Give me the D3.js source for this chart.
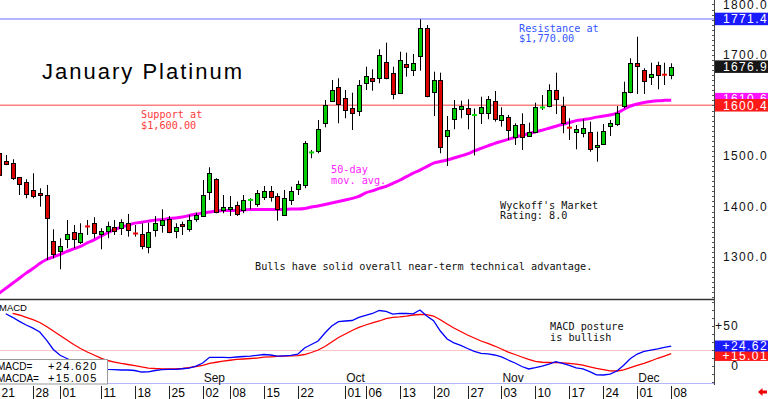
<!DOCTYPE html>
<html>
<head>
<meta charset="utf-8">
<script src="https://cdn.jsdelivr.net/npm/d3@7"></script>
<style>
  html, body { margin: 0; padding: 0; background: #fff; overflow: hidden; }
  svg { display: block; }
  .mono { font-family: "DejaVu Sans Mono", monospace; font-size: 10.2px; }
  .sans { font-family: "Liberation Sans", Arial, sans-serif; }
</style>
</head>
<body>
<svg id="chart" width="768" height="399"></svg>
<script>
// daily bars, Jul 21 .. Dec 08 (index = trading day)
const opens = [
  1505, 1490.7, 1485.6, 1457.8, 1449.1, 1432.7, 1427.4, 1422.8, 1332.3, 1311.9,
  1335.1, 1348.6, 1328.4, 1362, 1366.8, 1345, 1351.5, 1358.8, 1358.8, 1368,
  1347.5, 1345, 1320.4, 1352.1, 1363.4, 1375.3, 1351.5, 1364.8, 1355.5, 1374.7,
  1381.2, 1429.3, 1453.9, 1393.1, 1395, 1403, 1393.1, 1412, 1405, 1418.2,
  1430.7, 1420.8, 1383.2, 1412.9, 1434.7, 1442.6, 1506, 1508.5, 1565.9, 1609.5,
  1637.2, 1614.3, 1594.5, 1589.1, 1644, 1655, 1653.9, 1686.7, 1665, 1624.2,
  1681.6, 1670.3, 1696.6, 1752.9, 1627.3, 1650.5, 1539.6, 1574.7, 1592.5, 1594.5,
  1580, 1585.8, 1584.6, 1608.9, 1571.3, 1576.6, 1538.2, 1563.4, 1539.6, 1548.1,
  1595, 1599, 1630.7, 1599, 1557, 1547.5, 1545, 1548.1, 1517.2, 1525.2,
  1559.4, 1563.4, 1599, 1625.4, 1683.6, 1670.3, 1655.8, 1680.2, 1662, 1660.4
];
const highs = [
  1510, 1502, 1493.5, 1458, 1453.9, 1465.8, 1436.1, 1442.6, 1354.9, 1337.1,
  1373.3, 1363.4, 1366.8, 1373.3, 1378.6, 1356.9, 1369.9, 1373.3, 1374.7, 1385.2,
  1363.4, 1366.8, 1368, 1381.2, 1394.5, 1381.2, 1366.8, 1369.9, 1383.2, 1387.7,
  1452.5, 1477.6, 1455.9, 1422.8, 1420.8, 1409.6, 1422.8, 1416.3, 1432.7, 1440.6,
  1440.6, 1426.2, 1432.7, 1439.2, 1451.1, 1529.7, 1511.9, 1571.3, 1610.9, 1650.5,
  1653.9, 1630.7, 1625.4, 1650.5, 1676.8, 1671.7, 1711.3, 1724.4, 1676.8, 1706.5,
  1704.6, 1702, 1770.7, 1759.4, 1667, 1665, 1579.2, 1610.9, 1609.5, 1612.3,
  1594, 1617.4, 1618.8, 1628.7, 1596.4, 1581.2, 1564.8, 1584.6, 1566, 1605.6,
  1620.8, 1642, 1665, 1617.4, 1574.7, 1561.4, 1572.7, 1568, 1548.1, 1563.4,
  1571.3, 1599, 1647.1, 1693.5, 1736.2, 1673.7, 1684.8, 1686.7, 1684.8, 1683.6
];
const lows = [
  1455, 1482, 1452.5, 1422.8, 1416.3, 1416.3, 1399.6, 1294, 1297.5, 1275.7,
  1317.3, 1317.3, 1325.8, 1343.6, 1337.1, 1315.3, 1337.1, 1343.6, 1343.6, 1340.2,
  1340.2, 1315.3, 1307.4, 1340.2, 1348.1, 1347, 1337.1, 1343.6, 1350.1, 1369.9,
  1380, 1412.9, 1386.6, 1386.6, 1381.2, 1381.2, 1386.6, 1394.5, 1399.6, 1412.9,
  1409.6, 1371.9, 1381.2, 1403, 1422.8, 1436.1, 1495.5, 1505.4, 1556.8, 1607.5,
  1564.8, 1574.7, 1551.5, 1579.2, 1630.7, 1629.3, 1644, 1651.9, 1612.3, 1622.8,
  1657.1, 1658.4, 1668.9, 1616.2, 1579.2, 1505.4, 1480.2, 1552.9, 1574.7, 1552.9,
  1501, 1563.4, 1572.7, 1568, 1558.1, 1531.7, 1521.8, 1511.9, 1538, 1545,
  1591.1, 1596.4, 1583.2, 1545, 1531.7, 1513.3, 1537, 1508.5, 1488.7, 1521.8,
  1539.6, 1559.4, 1594.5, 1624.2, 1622.8, 1622.8, 1640.6, 1632.1, 1640.6, 1651.9
];
const closes = [
  1462, 1484.2, 1455.9, 1444, 1424.8, 1421.4, 1422.8, 1376.7, 1306, 1321.8,
  1345, 1335.7, 1347, 1360.5, 1347, 1351.5, 1361.4, 1350.1, 1369.9, 1353.5,
  1346.5, 1321.8, 1350.1, 1366.8, 1373.3, 1350.1, 1360, 1360, 1373.3, 1383.2,
  1422.8, 1467, 1387.7, 1398.4, 1398, 1385.2, 1412.9, 1413, 1426.2, 1430.7,
  1418.2, 1394.5, 1416.3, 1430.7, 1444.6, 1526.3, 1507, 1552.9, 1601, 1630.7,
  1603, 1591.1, 1584.6, 1640.6, 1658.4, 1649.1, 1700, 1655, 1622.8, 1690.1,
  1675.6, 1684.8, 1752.9, 1617.4, 1650.5, 1518.4, 1551.5, 1595.7, 1599, 1583.2,
  1581, 1597.7, 1612.3, 1572.7, 1581.2, 1550.1, 1561.4, 1537, 1548.1, 1597.7,
  1596, 1630.7, 1612.3, 1564.8, 1556, 1552.9, 1554.9, 1515.3, 1521.8, 1550.1,
  1564.8, 1584.6, 1627.3, 1683.6, 1676.8, 1649.1, 1662.4, 1660.4, 1661, 1676.9
];
const ma50 = [
  1228, 1238, 1248, 1258, 1268, 1277, 1287, 1295, 1300, 1305,
  1311, 1316, 1321, 1328, 1334, 1341, 1348, 1354, 1359, 1363,
  1367, 1369, 1371, 1373, 1374, 1376, 1377, 1379, 1382, 1385,
  1387, 1389, 1391, 1392, 1392, 1392, 1393, 1394, 1394, 1394,
  1394, 1394, 1394, 1395, 1395, 1396, 1399, 1401, 1404, 1407,
  1410, 1413, 1416, 1420, 1427, 1431, 1436, 1440, 1446, 1452,
  1459, 1466, 1472, 1479, 1486, 1489, 1492, 1496, 1500, 1504,
  1510, 1515, 1520, 1525, 1529, 1533, 1537, 1541, 1544, 1548,
  1551, 1555, 1559, 1563, 1566, 1570, 1572, 1574, 1577, 1579,
  1581, 1585, 1592, 1599, 1603, 1606, 1608, 1609.5, 1610.2, 1610.6
];
const macd = [
  null, 65, 60.5, 55.4, 50.9, 46.9, 42.1, 32.1, 20.3, 13,
  9, 5.2, 2.1, -0.4, -2.3, -3.8, -4.5, -5, -5.4, -5.4,
  -6, -7.9, -7.6, -6, -4.8, -4.5, -4.5, -3.8, -2.9, -0.4,
  3.4, 10.5, 10.5, 10.4, 10, 10.9, 11.5, 12.1, 13, 14,
  13.4, 12.1, 12.4, 12.8, 14.4, 22.1, 26.5, 30.9, 40.9, 49.6,
  55, 55.9, 56.5, 60.5, 63, 65.3, 69, 68, 64.6, 65.3,
  65.5, 64.9, 69.6, 62.1, 56.3, 43.4, 33.4, 28.6, 25.3, 21.5,
  17.8, 15.5, 14.9, 13.4, 11.1, 7.1, 3.4, -1, -4.1, -2.4,
  -0.4, 2.1, 5, 3, 0.3, -2.6, -4.1, -7.3, -11.4, -11.6,
  -10.4, -6.6, 0.5, 9, 14.6, 17.8, 19.6, 21.1, 22.8, 24.62
];
const macdAvg = [
  null, null, 65.3, 63.4, 60.5, 57.5, 54, 49, 43.4, 37.8,
  32.1, 26.5, 21.5, 17.1, 13.4, 9.6, 6.5, 4.6, 2.8, 1.5,
  0, -1.6, -2.9, -3.5, -3.9, -4.1, -3.9, -3.5, -2.3, -1,
  0.5, 2.8, 4.3, 5.6, 6.8, 7.8, 8.4, 9, 9.6, 10.6,
  11.1, 11.6, 12, 12.3, 12.5, 14, 16.5, 19.6, 24, 29.6,
  35.3, 39.6, 44, 47.8, 50.9, 53.4, 55.9, 59, 60.3, 61.1,
  62.1, 63.4, 64, 63.8, 62.1, 57.4, 52.1, 47.1, 42.8, 38.4,
  34.6, 30.9, 27.8, 24.6, 20.9, 17.1, 14, 10.9, 7.8, 5.3,
  4.3, 4, 3.8, 3.5, 2.8, 1.9, 0.6, -1.4, -3.3, -4.8,
  -6.4, -6.6, -5.1, -2.5, 0.3, 2.8, 5.9, 9.3, 12.1, 15.005
];

const tickIdx = [0, 5, 9, 15, 20, 25, 30, 34, 39, 44, 51, 54, 59, 64, 69, 74, 79, 84, 89, 94, 99];
const tickText = ["21", "28", "01", "11", "18", "25", "02", "08", "15", "22", "01", "06",
                  "13", "20", "27", "03", "10", "17", "24", "01", "08"];
const monthIdx = [30, 51, 74, 94];
const monthText = ["Sep", "Oct", "Nov", "Dec"];

const priceTicks = [1300, 1400, 1500, 1600, 1700, 1800];
const macdTicks = [0, 50];
const resistance = 1771.4;
const support = 1600.4;
const macdRef = 19;

const W = 768, AX = 714;
const svg = d3.select("#chart");

const x = d3.scaleLinear().domain([0, 99]).range([-1, 671.2]);
const y = d3.scaleLinear().domain([1216.8, 1808.9]).range([299, 0]);
const ym = d3.scaleLinear().domain([-22, 83.4]).range([383.3, 299]);

const defs = svg.append("defs");
defs.append("clipPath").attr("id", "cpMain")
  .append("rect").attr("x", 0).attr("y", 0).attr("width", AX).attr("height", 299);
defs.append("clipPath").attr("id", "cpMacd")
  .append("rect").attr("x", 0).attr("y", 299).attr("width", AX).attr("height", 85);

// ---------- main panel ----------
const main = svg.append("g").attr("clip-path", "url(#cpMain)");

main.append("line")
  .attr("x1", 0).attr("x2", AX)
  .attr("y1", y(resistance)).attr("y2", y(resistance))
  .attr("stroke", "#9c9cff").attr("stroke-width", 1.5);
main.append("line")
  .attr("x1", 0).attr("x2", AX)
  .attr("y1", y(support)).attr("y2", y(support))
  .attr("stroke", "#ff8080").attr("stroke-width", 1.5);

// annotations
svg.append("text").attr("class", "sans")
  .attr("x", 42).attr("y", 79)
  .attr("font-size", 22).attr("textLength", 200).attr("lengthAdjust", "spacing")
  .attr("fill", "#000").text("January Platinum");

function note(lines, x0, y0, color, dy) {
  const t = svg.append("text").attr("class", "mono").attr("fill", color);
  lines.forEach((s, k) => t.append("tspan").attr("x", x0).attr("y", y0 + k * dy).text(s));
}
note(["Support at", "$1,600.00"], 141, 118, "#ff3b3b", 10.5);
note(["Resistance at", "$1,770.00"], 519, 31.5, "#3355ff", 10.5);
note(["50-day", "mov. avg."], 331, 173, "#ff22ff", 10.8);
note(["Wyckoff's Market", "Rating: 8.0"], 500, 208.5, "#111", 10.5);
note(["Bulls have solid overall near-term technical advantage."], 255, 270, "#111", 0);

// 50-day moving average
const maLine = d3.line().x((d, i) => x(i)).y(d => y(d)).curve(d3.curveMonotoneX);
main.append("path").datum(ma50)
  .attr("d", maLine).attr("fill", "none")
  .attr("stroke", "#ff00ff").attr("stroke-width", 3);

// candles
const bars = d3.range(opens.length).map(i => ({
  i, o: opens[i], h: highs[i], l: lows[i], c: closes[i]
}));
const cg = main.append("g").selectAll("g").data(bars).join("g");
cg.append("line")
  .attr("x1", d => Math.round(x(d.i)) + 0.5).attr("x2", d => Math.round(x(d.i)) + 0.5)
  .attr("y1", d => y(d.h)).attr("y2", d => y(d.l))
  .attr("stroke", "#000").attr("stroke-width", 1);
cg.filter(d => Math.abs(d.c - d.o) > 1.6).append("rect")
  .attr("x", d => Math.round(x(d.i)) - 1.5)
  .attr("y", d => Math.round(y(Math.max(d.o, d.c))) + 0.5)
  .attr("width", 4)
  .attr("height", d => Math.max(1, Math.round(y(Math.min(d.o, d.c)) - y(Math.max(d.o, d.c)))))
  .attr("fill", d => d.c >= d.o ? "#00cc00" : "#dd0000")
  .attr("stroke", "#000").attr("stroke-width", 1);
cg.filter(d => Math.abs(d.c - d.o) <= 1.6).append("line")
  .attr("x1", d => Math.round(x(d.i)) - 2).attr("x2", d => Math.round(x(d.i)) + 3)
  .attr("y1", d => y(d.c)).attr("y2", d => y(d.c))
  .attr("stroke", d => d.c >= d.o ? "#00dd00" : "#ff0000").attr("stroke-width", 2);

svg.append("line")
  .attr("x1", 0).attr("x2", AX).attr("y1", 299.5).attr("y2", 299.5)
  .attr("stroke", "#333").attr("stroke-width", 1.5);

// ---------- MACD panel ----------
const mp = svg.append("g").attr("clip-path", "url(#cpMacd)");
mp.append("line")
  .attr("x1", 0).attr("x2", AX).attr("y1", ym(macdRef)).attr("y2", ym(macdRef))
  .attr("stroke", "#ffc4c4").attr("stroke-width", 1);
mp.append("line")
  .attr("x1", 0).attr("x2", AX).attr("y1", 383.5).attr("y2", 383.5)
  .attr("stroke", "#b4b4ff").attr("stroke-width", 1);

const mLine = d3.line().defined(d => d != null).x((d, i) => x(i)).y(d => ym(d));
mp.append("path").datum(macdAvg).attr("d", mLine)
  .attr("fill", "none").attr("stroke", "#ff0000").attr("stroke-width", 1.3);
mp.append("path").datum(macd).attr("d", mLine)
  .attr("fill", "none").attr("stroke", "#0000ff").attr("stroke-width", 1.3);

svg.append("text").attr("class", "sans").attr("font-size", 9.5)
  .attr("x", -1).attr("y", 311).attr("fill", "#000").text("MACD");
note(["MACD posture", "is bullish"], 550, 330, "#111", 10.5);

svg.append("g").selectAll("text").data(monthIdx).join("text")
  .attr("class", "sans").attr("font-size", 12)
  .attr("x", d => x(d) + 1).attr("y", 382).attr("fill", "#111")
  .text((d, k) => monthText[k]);

// value box, lower left
const fmt3 = d3.format("+.3f");
const vb = svg.append("g");
vb.append("rect").attr("x", -1.5).attr("y", 359.5).attr("width", 109).attr("height", 24.5)
  .attr("fill", "#fff").attr("stroke", "#999").attr("stroke-width", 1);
[["MACD=", fmt3(macd[99]), 369.5], ["MACDA=", fmt3(macdAvg[99]), 381.5]].forEach(r => {
  vb.append("text").attr("class", "sans").attr("font-size", 10)
    .attr("x", -3).attr("y", r[2]).attr("fill", "#000").text(r[0]);
  vb.append("text").attr("class", "sans").attr("font-size", 11).attr("letter-spacing", 1.4)
    .attr("x", 48).attr("y", r[2]).attr("fill", "#000").text(r[1]);
});

// ---------- date strip ----------
const ds = svg.append("g").selectAll("g").data(tickIdx).join("g");
ds.append("line")
  .attr("x1", d => Math.round(x(d)) + 0.5).attr("x2", d => Math.round(x(d)) + 0.5)
  .attr("y1", 386).attr("y2", 399).attr("stroke", "#222").attr("stroke-width", 1);
ds.append("text").attr("class", "sans").attr("font-size", 12)
  .attr("x", d => Math.round(x(d)) + 2.5).attr("y", 396.5).attr("fill", "#000")
  .text((d, k) => tickText[k]);

svg.append("path")
  .attr("d", "M758,392 L762.5,388 L762.5,390.5 L767,390.5 L767,393.5 L762.5,393.5 L762.5,396 Z")
  .attr("fill", "#ee0000");

// ---------- right axis ----------
svg.append("line").attr("x1", AX + 0.5).attr("x2", AX + 0.5).attr("y1", 0).attr("y2", 385)
  .attr("stroke", "#444").attr("stroke-width", 1);
svg.append("g").selectAll("line").data(d3.range(1220, 1810, 10)).join("line")
  .attr("x1", AX - 2).attr("x2", AX).attr("y1", d => Math.round(y(d)) + 0.5).attr("y2", d => Math.round(y(d)) + 0.5)
  .attr("stroke", "#555").attr("stroke-width", 1);
svg.append("g").selectAll("line").data(d3.range(-20, 81, 10)).join("line")
  .attr("x1", AX - 2).attr("x2", AX).attr("y1", d => Math.round(ym(d)) + 0.5).attr("y2", d => Math.round(ym(d)) + 0.5)
  .attr("stroke", "#555").attr("stroke-width", 1);

const fmt1 = d3.format(".1f");
svg.append("g").selectAll("text").data(priceTicks).join("text")
  .attr("class", "sans").attr("font-size", 12).attr("letter-spacing", 1.4)
  .attr("text-anchor", "end").attr("x", 768).attr("y", d => y(d) + 4.5)
  .attr("fill", "#111").text(d => fmt1(d));
svg.append("g").selectAll("text").data(macdTicks).join("text")
  .attr("class", "sans").attr("font-size", 12).attr("letter-spacing", 1.2)
  .attr("text-anchor", "end").attr("x", 739).attr("y", d => ym(d) + 4.5)
  .attr("fill", "#111").text(d => d > 0 ? "+" + d : String(d));

function valueBox(v, label, fill, yy, h) {
  const g = svg.append("g");
  g.append("rect").attr("x", AX + 1).attr("y", yy - h / 2).attr("width", W - AX - 1).attr("height", h)
    .attr("fill", fill);
  g.append("text").attr("class", "sans").attr("font-size", 12).attr("letter-spacing", 1.4)
    .attr("text-anchor", "end").attr("x", 768).attr("y", yy + 4.3)
    .attr("fill", "#fff").text(label);
}
valueBox(resistance, fmt1(resistance), "#1a1aff", y(resistance), 12.5);
valueBox(closes[99], fmt1(closes[99]), "#161616", y(closes[99]), 12.5);
valueBox(ma50[99], fmt1(ma50[99]), "#ff10ff", y(ma50[99]) - 1, 12.5);
valueBox(support, fmt1(support), "#ff1a1a", y(support), 12.5);

const fmt2 = d3.format("+.2f");
valueBox(macdAvg[99], fmt2(macdAvg[99]), "#ff1a1a", ym(macdAvg[99]) + 1.5, 11.5);
valueBox(macd[99], fmt2(macd[99]), "#1a1aff", ym(macd[99]), 11);
</script>
</body>
</html>
